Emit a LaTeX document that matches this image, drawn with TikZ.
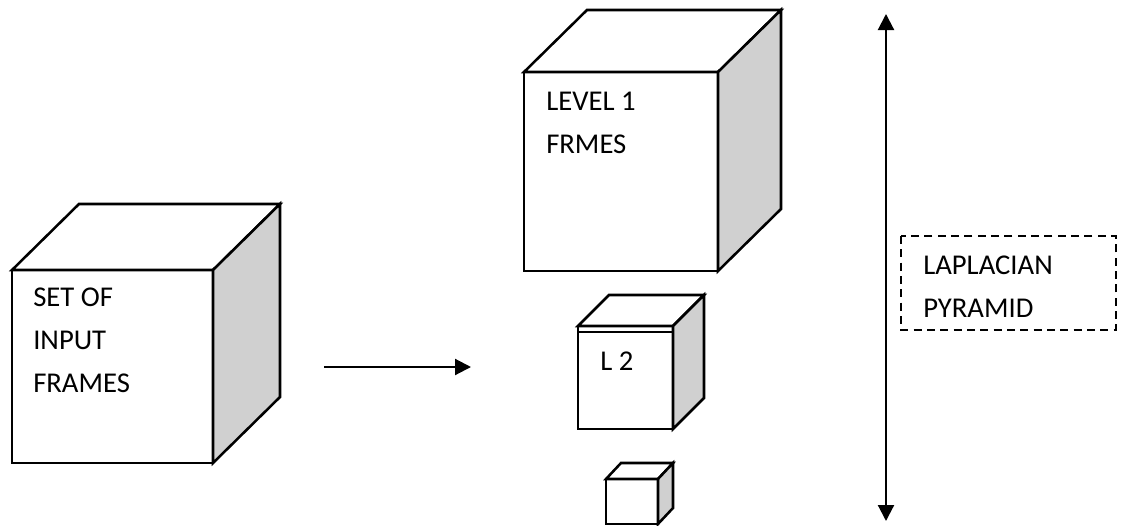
\documentclass[tikz,border=0pt]{standalone}
\usepackage{fontspec}
\setmainfont{Carlito}
\usetikzlibrary{arrows.meta}

\definecolor{sidegray}{RGB}{208,208,208}

\tikzset{
	cubeline/.style={line width=1.9pt, line join=miter},
	sideface/.style={cubeline, fill=sidegray},
	boxtext/.style={anchor=base west, inner sep=0pt, align=left, font=\fontsize{21.5}{32}\selectfont},
	arrowline/.style={line width=1.6pt},
	tip/.tip={Triangle[length=12pt,width=12pt]},
}

\begin{document}
\begin{tikzpicture}[x=0.75pt,y=0.75pt,yscale=-1,xscale=1]
	\useasboundingbox (0,0) rectangle (1121,525);
	
	%Shape: Cube [input frames]
	\draw [cubeline] (12,270) -- (79,204) -- (280,204) -- (213,270) -- cycle ;
	\draw [sideface] (213,270) -- (280,204) -- (280,397) -- (213,463) -- cycle ;
	\draw [cubeline] (12,270) rectangle (213,463) ;
	%Shape: Cube [level 1]
	\draw [cubeline] (524,72) -- (587,10) -- (781,10) -- (718,72) -- cycle ;
	\draw [sideface] (718,72) -- (781,10) -- (781,209) -- (718,271) -- cycle ;
	\draw [cubeline] (524,72) rectangle (718,271) ;
	%Shape: Cube [level 2]
	\draw [cubeline] (578,326) -- (609,295) -- (704,295) -- (673,326) -- cycle ;
	\draw [sideface] (673,326) -- (704,295) -- (704,398) -- (673,429) -- cycle ;
	\draw [cubeline] (578,326) rectangle (673,429) ;
	\draw [cubeline] (578,332) -- (673,332) ;
	%Shape: Cube [level 3]
	\draw [cubeline] (606,479) -- (621,463) -- (673,463) -- (658,479) -- cycle ;
	\draw [sideface] (658,479) -- (673,463) -- (673,508) -- (658,524) -- cycle ;
	\draw [cubeline] (606,479) rectangle (658,524) ;
	
	%Shape: Dashed box
	\draw [line width=1.6pt, dash pattern=on 6pt off 4pt] (901,236) rectangle (1116,330) ;
	
	% Text Node (base = last line)
	\node [boxtext] (inputtext) at (33,392) {SET OF\\INPUT\\FRAMES};
	% Text Node
	\node [boxtext] (leveltext) at (546,153) {LEVEL 1\\FRMES};
	% Text Node
	\node [boxtext] (ltwotext) at (600,370) {L 2};
	% Text Node
	\node [boxtext] (pyramidtext) at (923,317) {LAPLACIAN\\PYRAMID};
	
	%Straight Lines
	\coordinate (arrowstart) at (324,367);
	\coordinate (arrowend) at (471,367);
	\draw [arrowline, -tip] (arrowstart) -- (arrowend) ;
	\coordinate (pyrtop) at (886,14);
	\coordinate (pyrbottom) at (886,521);
	\draw [arrowline, tip-tip] (pyrtop) -- (pyrbottom) ;
	
\end{tikzpicture}
\end{document}
